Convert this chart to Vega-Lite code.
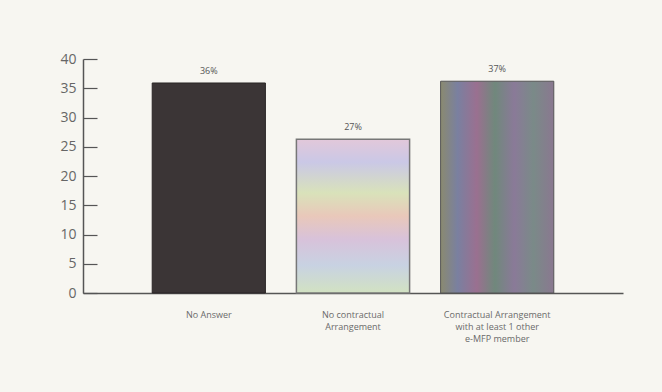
{
  "$schema": "https://vega.github.io/schema/vega-lite/v6.json",
  "width": 540,
  "height": 234,
  "autosize": "none",
  "padding": {"left": 83, "top": 59, "right": 39, "bottom": 99},
  "background": "#f7f6f1",
  "data": {"values": [
    {"category": "No Answer", "value": 35.9, "pct": "36%"},
    {"category": "No contractual|Arrangement", "value": 26.3, "pct": "27%"},
    {"category": "Contractual Arrangement|with at least 1 other|e-MFP member", "value": 36.2, "pct": "37%"}
  ]},
  "encoding": {
    "x": {"field": "category", "type": "nominal", "sort": null,
      "scale": {"paddingInner": 0.215, "paddingOuter": 0.48},
      "axis": {"title": null, "labelAngle": 0, "ticks": false, "labelPadding": 17,
        "labelExpr": "split(datum.label, '|')", "labelFontSize": 9, "labelColor": "#6a6a6a",
        "labelLineHeight": 12, "labelFont": "Open Sans", "domainColor": "#555", "domainWidth": 1.5, "labelBaseline": "top"}},
    "y": {"field": "value", "type": "quantitative",
      "scale": {"domain": [0, 40]},
      "axis": {"title": null, "values": [0,5,10,15,20,25,30,35,40], "grid": false, "tickSize": -14,
        "labelPadding": 21, "labelFontSize": 14, "labelColor": "#666", "labelFont": "Open Sans",
        "domainColor": "#555", "domainWidth": 1.5, "tickColor": "#555", "tickWidth": 1.2}}
  },
  "layer": [
    {"transform": [{"filter": "datum.pct == '36%'"}], "mark": {"type": "bar", "color": "#3b3536", "stroke": "#2a2526", "strokeWidth": 1}},
    {"transform": [{"filter": "datum.pct == '27%'"}], "mark": {"type": "bar", "stroke": "#777", "strokeWidth": 1.5,
      "color": {"gradient": "linear", "x1": 0, "y1": 0, "x2": 0, "y2": 1, "stops": [
        {"offset": 0, "color": "#e2c8da"}, {"offset": 0.15, "color": "#cac8e6"}, {"offset": 0.35, "color": "#d9e2ba"},
        {"offset": 0.5, "color": "#e9c8ba"}, {"offset": 0.65, "color": "#d8c2da"}, {"offset": 0.82, "color": "#c8d2e2"},
        {"offset": 1, "color": "#d2e2c2"}]}}},
    {"transform": [{"filter": "datum.pct == '37%'"}], "mark": {"type": "bar", "stroke": "#555", "strokeWidth": 1,
      "color": {"gradient": "linear", "x1": 0, "y1": 0, "x2": 1, "y2": 0, "stops": [
        {"offset": 0, "color": "#8a8a70"}, {"offset": 0.15, "color": "#7a80a0"}, {"offset": 0.32, "color": "#9a7090"},
        {"offset": 0.48, "color": "#70887c"}, {"offset": 0.65, "color": "#8a7a98"}, {"offset": 0.82, "color": "#7a8a88"},
        {"offset": 1, "color": "#8a7890"}]}}},
    {"mark": {"type": "text", "dy": -12, "fontSize": 9, "color": "#555", "font": "Open Sans"},
      "encoding": {"text": {"field": "pct"}}}
  ],
  "config": {"view": {"stroke": null}}
}
